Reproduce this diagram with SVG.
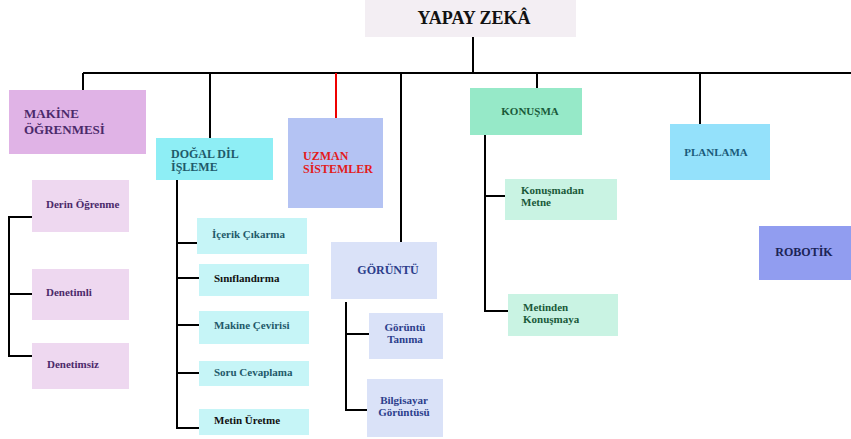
<svg xmlns="http://www.w3.org/2000/svg" width="851" height="439" viewBox="0 0 851 439">
<style>
text{font-family:"Liberation Serif","Times New Roman",serif;font-weight:bold}
.ln{stroke:#000;stroke-width:2;fill:none}
.red{stroke:#e00;stroke-width:2;fill:none}
.t1{font-size:18px;fill:#111}
.t2{font-size:13px}
.t3{font-size:12px}
.t5{font-size:11px}
.t4{font-size:11px}
.ml{fill:#4b2a6b}.dd{fill:#1f5a6a}.uz{fill:#e31b1b}.gr{fill:#2c3e8c}.kn{fill:#1a5a3a}.pl{fill:#1a5a7a}.rb{fill:#1b2456}.bk{fill:#111}
</style>
<g id="connectors">
<path class="ln" d="M473 37V73M83 73H851M83 73V90M210 73V138M401 73V243M537 73V88M700 73V124"/>
<path class="red" d="M336 73V118"/>
<path class="ln" d="M32 217H9V356H32M9 294H32"/>
<path class="ln" d="M177 180V428H199M177 243H197M177 278H199M177 325H199M177 373H199"/>
<path class="ln" d="M346 302V410H367M346 334H369"/>
<path class="ln" d="M485 135V311H508M485 196H505"/>
</g>
<g id="yapay-zeka"><rect x="365" y="0" width="211" height="37" fill="#f3eef3"/><text class="t1" x="474" y="24" text-anchor="middle">YAPAY ZEKÂ</text></g>
<g id="makine-ogrenmesi"><rect x="9" y="90" width="137" height="64" fill="#e0b3e6"/><text class="t2 ml" x="24" y="118">MAKİNE</text><text class="t2 ml" x="24" y="134">ÖĞRENMESİ</text></g>
<g id="dogal-dil"><rect x="156" y="138" width="117" height="42" fill="#8eeef5"/><text class="t3 dd" x="171" y="158">DOĞAL DİL</text><text class="t3 dd" x="171" y="171">İŞLEME</text></g>
<g id="uzman"><rect x="288" y="118" width="95" height="90" fill="#b4c3f3"/><text class="t3 uz" x="303" y="160">UZMAN</text><text class="t3 uz" x="303" y="173">SİSTEMLER</text></g>
<g id="goruntu"><rect x="331" y="242" width="106" height="57" fill="#dae2f8"/><text class="t3 gr" x="388" y="274" text-anchor="middle">GÖRÜNTÜ</text></g>
<g id="konusma"><rect x="470" y="88" width="112" height="47" fill="#96e9c8"/><text class="t5 kn" x="530" y="115" text-anchor="middle">KONUŞMA</text></g>
<g id="planlama"><rect x="670" y="124" width="100" height="56" fill="#94e1fb"/><text class="t5 pl" x="716" y="156" text-anchor="middle">PLANLAMA</text></g>
<g id="robotik"><rect x="759" y="226" width="92" height="54" fill="#919df0"/><text class="t3 rb" x="804" y="256" text-anchor="middle">ROBOTİK</text></g>
<g id="derin"><rect x="32" y="180" width="97" height="52" fill="#eed8f0"/><text class="t4 ml" x="46" y="208">Derin Öğrenme</text></g>
<g id="denetimli"><rect x="32" y="269" width="97" height="51" fill="#eed8f0"/><text class="t4 ml" x="46" y="296">Denetimli</text></g>
<g id="denetimsiz"><rect x="32" y="343" width="97" height="46" fill="#eed8f0"/><text class="t4 ml" x="47" y="368">Denetimsiz</text></g>
<g id="icerik"><rect x="197" y="218" width="110" height="36" fill="#c6f5f7"/><text class="t4 dd" x="212" y="238">İçerik Çıkarma</text></g>
<g id="siniflandirma"><rect x="199" y="264" width="110" height="32" fill="#c6f5f7"/><text class="t4 bk" x="214" y="282">Sınıflandırma</text></g>
<g id="makine-cevirisi"><rect x="199" y="311" width="110" height="33" fill="#c6f5f7"/><text class="t4 dd" x="214" y="329">Makine Çevirisi</text></g>
<g id="soru"><rect x="199" y="361" width="110" height="25" fill="#c6f5f7"/><text class="t4 dd" x="214" y="376">Soru Cevaplama</text></g>
<g id="metin-uretme"><rect x="199" y="409" width="110" height="26" fill="#c6f5f7"/><text class="t4 bk" x="214" y="424">Metin Üretme</text></g>
<g id="goruntu-tanima"><rect x="369" y="313" width="74" height="46" fill="#dae2f8"/><text class="t4 gr" x="405" y="331" text-anchor="middle">Görüntü</text><text class="t4 gr" x="405" y="343" text-anchor="middle">Tanıma</text></g>
<g id="bilgisayar"><rect x="367" y="379" width="76" height="58" fill="#dae2f8"/><text class="t4 gr" x="404" y="404" text-anchor="middle">Bilgisayar</text><text class="t4 gr" x="404" y="416" text-anchor="middle">Görüntüsü</text></g>
<g id="konusmadan"><rect x="505" y="179" width="112" height="41" fill="#c9f3e3"/><text class="t4 kn" x="521" y="194">Konuşmadan</text><text class="t4 kn" x="521" y="206">Metne</text></g>
<g id="metinden"><rect x="508" y="294" width="110" height="42" fill="#c9f3e3"/><text class="t4 kn" x="523" y="311">Metinden</text><text class="t4 kn" x="523" y="323">Konuşmaya</text></g>
</svg>
